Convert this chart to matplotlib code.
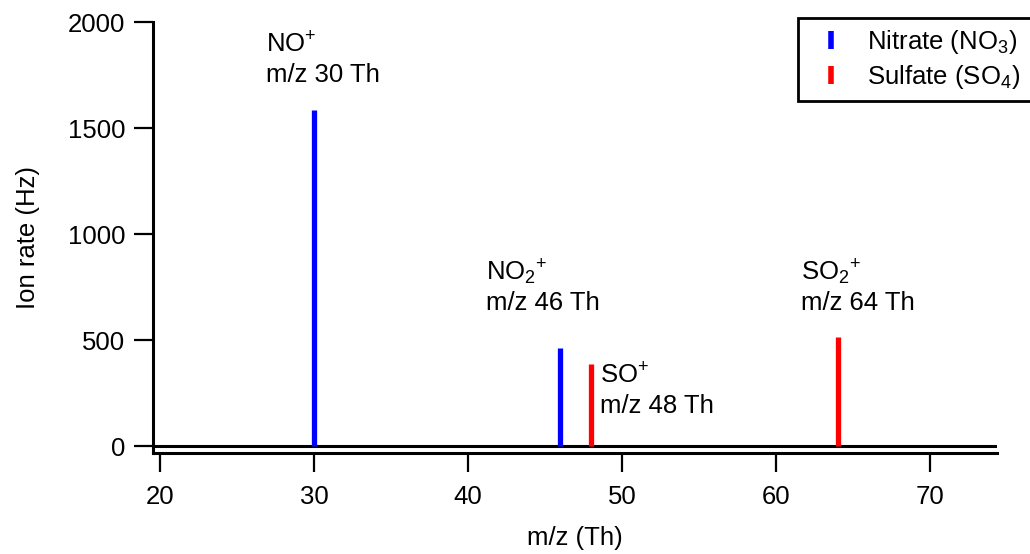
import numpy as np
import matplotlib
matplotlib.use('Agg')
from matplotlib import pyplot as plt
from matplotlib.lines import Line2D

plt.rcParams['font.family'] = ['Liberation Sans', 'DejaVu Sans']
plt.rcParams['mathtext.fontset'] = 'custom'
plt.rcParams['mathtext.rm'] = 'Liberation Sans'
plt.rcParams['mathtext.it'] = 'Liberation Sans'

# peak data
nitrate_mz = [30, 46]
nitrate_rate = [1585, 462]
sulfate_mz = [20, 48, 64]
sulfate_rate = [3, 387, 514]

ion_names = [r'NO$^{+}$', r'NO$_2$$^{+}$', r'SO$^{+}$', r'SO$_2$$^{+}$']
ion_mz = ['m/z 30 Th', 'm/z 46 Th', 'm/z 48 Th', 'm/z 64 Th']
label_x = [26.9, 41.2, 48.6, 61.6]
label_y = [1858, 783, 297, 783]

fs = 18.5

fig = plt.figure(figsize=(10.3, 5.54), dpi=100)
ax = fig.add_axes([0.1485, 0.182, 0.968 - 0.1485, 0.960 - 0.182])

ax.axhline(0, color='black', lw=2.2, zorder=1)
ax.vlines(nitrate_mz, 0, nitrate_rate, color='#0000ff', lw=3.8, zorder=2)
ax.vlines(sulfate_mz, 0, sulfate_rate, color='#ff0000', lw=3.8, zorder=2)

for name, mz, x, y in zip(ion_names, ion_mz, label_x, label_y):
    ax.annotate(name, (x, y), fontsize=fs, va='baseline', ha='left')
    ax.annotate(mz, (x, y), xytext=(0, -21.5), textcoords='offset points',
                fontsize=fs, va='baseline', ha='left')

ax.set_xlim(19.55, 74.35)
ax.set_ylim(-33, 2000)
ax.set_xticks([20, 30, 40, 50, 60, 70])
ax.set_yticks([0, 500, 1000, 1500, 2000])
ax.tick_params(direction='out', length=14, width=1.6, labelsize=fs, pad=6)
ax.tick_params(axis='x', pad=9)
for s in ['top', 'right']:
    ax.spines[s].set_visible(False)
for s in ['left', 'bottom']:
    ax.spines[s].set_linewidth(2.2)
ax.set_xlabel('m/z (Th)', fontsize=fs, labelpad=12)
ax.set_ylabel('Ion rate (Hz)', fontsize=fs, labelpad=20)

handles = [Line2D([], [], color='#0000ff', marker='|', ls='none', markersize=13, mew=4),
           Line2D([], [], color='#ff0000', marker='|', ls='none', markersize=13, mew=4)]
leg = ax.legend(handles, [r'Nitrate (NO$_3$)', r'Sulfate (SO$_4$)'],
                loc='upper left', bbox_to_anchor=(798 / 1030, 1 - 18 / 554),
                bbox_transform=fig.transFigure, fontsize=fs, frameon=True,
                fancybox=False, edgecolor='black', framealpha=1,
                handletextpad=0.5, borderpad=0.4, labelspacing=0.25,
                handlelength=1.8, borderaxespad=0)
leg.get_frame().set_linewidth(2)

fig.savefig('out.png', dpi=100)
